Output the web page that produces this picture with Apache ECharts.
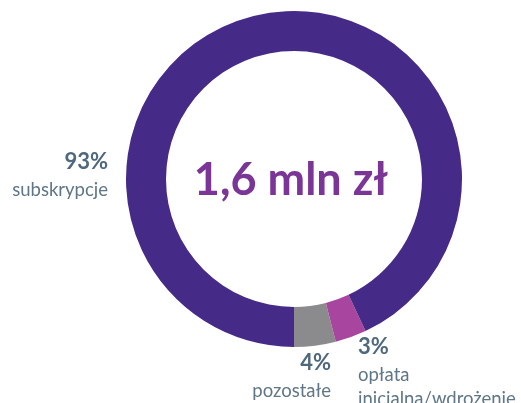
<!DOCTYPE html>
<html>
<head>
<meta charset="utf-8">
<script src="https://cdn.jsdelivr.net/npm/echarts@6/dist/echarts.min.js"></script>
<style>
  html, body { margin: 0; padding: 0; background: #fff; }
  #chart { width: 521px; height: 403px; }
</style>
</head>
<body>
<div id="chart"></div>
<script>
// order: drawn counter-clockwise starting at the bottom of the ring
const categories = ['pozostałe', 'opłata\ninicjalna/wdrożenie', 'subskrypcje']
const shares = [4, 3, 93]
const sliceColors = ['#8b8b8d', '#a8469f', '#452a87']
const totalLabel = '1,6 mln zł'

// where each label block sits (top edge) and how it is aligned
const labelSpots = [
  { x: 331, y: 347, align: 'right' },
  { x: 358, y: 331, align: 'left' },
  { x: 108, y: 146, align: 'right' }
]

const myChart = echarts.init(document.getElementById('chart'))

const option = {
  animation: false,
  graphic: [
    {
      type: 'text',
      x: 291,
      y: 180,
      style: {
        text: totalLabel,
        fill: '#7b3596',
        font: 'bold 45px Lato',
        textAlign: 'center',
        textVerticalAlign: 'middle'
      }
    }
  ],
  series: [
    {
      type: 'pie',
      center: [294, 179],
      radius: [128, 168],
      startAngle: 270,
      clockwise: false,
      silent: true,
      data: categories.map((name, i) => ({
        name: name,
        value: shares[i],
        itemStyle: { color: sliceColors[i] }
      })),
      labelLine: { show: false },
      label: {
        show: true,
        position: 'outside',
        overflow: 'none',
        bleedMargin: 0,
        formatter: p => '{p|' + p.value + '%}\n{n|' + p.name.split('\n').join('}\n{n|') + '}',
        rich: {
          p: { fontFamily: 'Lato', fontWeight: 'bold', fontSize: 22, color: '#4e687c', lineHeight: 32 },
          n: { fontFamily: 'Lato', fontSize: 18.5, color: '#5f7687', lineHeight: 24 }
        }
      },
      labelLayout: params => {
        const s = labelSpots[params.dataIndex]
        return { x: s.x, y: s.y, align: s.align, verticalAlign: 'top' }
      }
    }
  ]
}
myChart.setOption(option)
</script>
</body>
</html>
